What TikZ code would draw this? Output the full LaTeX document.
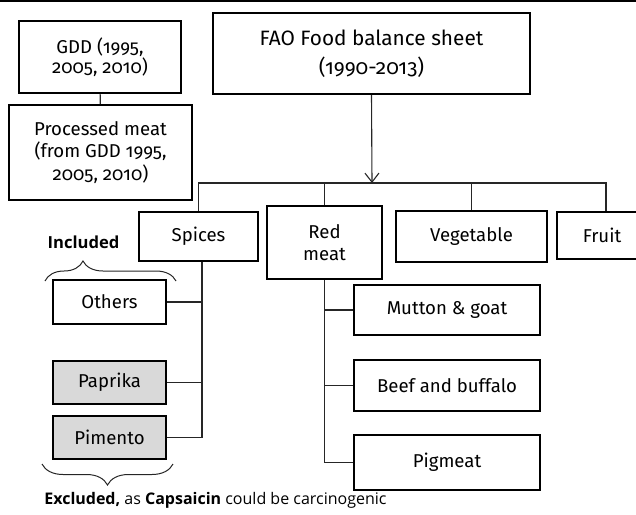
\documentclass[tikz,border=0pt]{standalone}
\usepackage{fontspec}
\setmainfont[Numbers=OldStyle]{Fira Sans}
\newfontfamily\notefont{Open Sans}
\usepackage{tikz}
\usetikzlibrary{arrows.meta, decorations.pathreplacing}
\tikzstyle{box} = [rectangle, draw=black, line width=1pt, fill=white, align=center, inner sep=0pt, font=\fontsize{9.3}{11.2}\selectfont]
\tikzstyle{excluded} = [box, fill=black!15]
\tikzstyle{line} = [line width=0.55pt, draw=black!85]
\tikzstyle{arrow} = [line, -{Straight Barb[length=4.5pt,width=7pt,line width=0.55pt]}]
\tikzstyle{brace} = [line width=0.5pt, draw=black!85, decorate]
\tikzstyle{note} = [font=\notefont\fontsize{8}{9.5}\selectfont, inner sep=0pt]

\begin{document}
\begin{tikzpicture}[x=0.5pt, y=-0.5pt]
  \useasboundingbox (0,0) rectangle (636,514);
  \draw[line width=0.8pt] (0,0.8) -- (636,0.8);

  % sources
  \node[box, minimum width=81pt, minimum height=36pt, font=\fontsize{9.3}{10}\selectfont] (gdd) at (100,57) {GDD (1995,\\2005, 2010)};
  \node[box, minimum width=91.5pt, minimum height=47.5pt] (processed) at (100.5,152.5) {Processed meat\\(from GDD 1995,\\2005, 2010)};
  \node[box, minimum width=158.5pt, minimum height=40.5pt, font=\fontsize{10.4}{14.5}\selectfont] (fao) at (371.5,53.5) {FAO Food balance sheet\\(1990-2013)};

  % food groups
  \node[box, minimum width=59.5pt, minimum height=24.5pt] (spices) at (198.5,236.5) {Spices};
  \node[box, minimum width=57.5pt, minimum height=36.5pt] (redmeat) at (324.5,242.5) {Red\\meat};
  \node[box, minimum width=75.5pt, minimum height=25.5pt] (vegetable) at (471.5,236.5) {Vegetable};
  \node[box, minimum width=45pt, minimum height=23.5pt] (fruit) at (602,235.5) {Fruit};

  % spices
  \node[box, minimum width=56.5pt, minimum height=22pt] (others) at (109.5,302) {Others};
  \node[excluded, minimum width=56.5pt, minimum height=21.5pt] (paprika) at (109.5,382.5) {Paprika};
  \node[excluded, minimum width=56.5pt, minimum height=21.5pt] (pimento) at (109.5,437.5) {Pimento};

  % red meat
  \node[box, minimum width=93pt, minimum height=25pt] (mutton) at (447,310) {Mutton \& goat};
  \node[box, minimum width=93pt, minimum height=25.5pt] (beef) at (447,385.5) {Beef and buffalo};
  \node[box, minimum width=93pt, minimum height=27.5pt] (pigmeat) at (447,462.5) {Pigmeat};

  % connectors
  \coordinate (bus) at (372,183);
  \draw[line] (gdd) -- (processed);
  \draw[line] (spices.north) |- (bus) -| ([xshift=2pt]fruit.north);
  \draw[line] (redmeat.north) -- (redmeat.north |- bus);
  \draw[line] (vegetable.north) -- (vegetable.north |- bus);
  \draw[arrow] (fao.south) -- (bus);

  \coordinate (strunk) at ([xshift=1.75pt]spices.south);
  \draw[line] (strunk) |- (pimento.east);
  \draw[line] (others.east) -- (others.east -| strunk);
  \draw[line] (paprika.east) -- (paprika.east -| strunk);

  \draw[line] (redmeat.south) |- (pigmeat.west);
  \draw[line] (mutton.west) -- (mutton.west -| redmeat.south);
  \draw[line] (beef.west) -- (beef.west -| redmeat.south);

  % notes
  \node[note, font=\notefont\bfseries\fontsize{8.3}{9.5}\selectfont] (included) at (83.5,242) {Included};
  \coordinate (inclL) at (45,281);
  \coordinate (inclR) at (176,281);
  \draw[brace, decoration={brace, amplitude=10pt, aspect=0.29}] (inclL) -- (inclR);
  \coordinate (exclL) at (42,464);
  \coordinate (exclR) at (173,464);
  \draw[brace, decoration={brace, amplitude=10.5pt}] (exclR) -- (exclL);
  \node[note, anchor=west] (excluded) at (44,500) {\textbf{Excluded,} as \textbf{Capsaicin} could be carcinogenic};
\end{tikzpicture}
\end{document}
